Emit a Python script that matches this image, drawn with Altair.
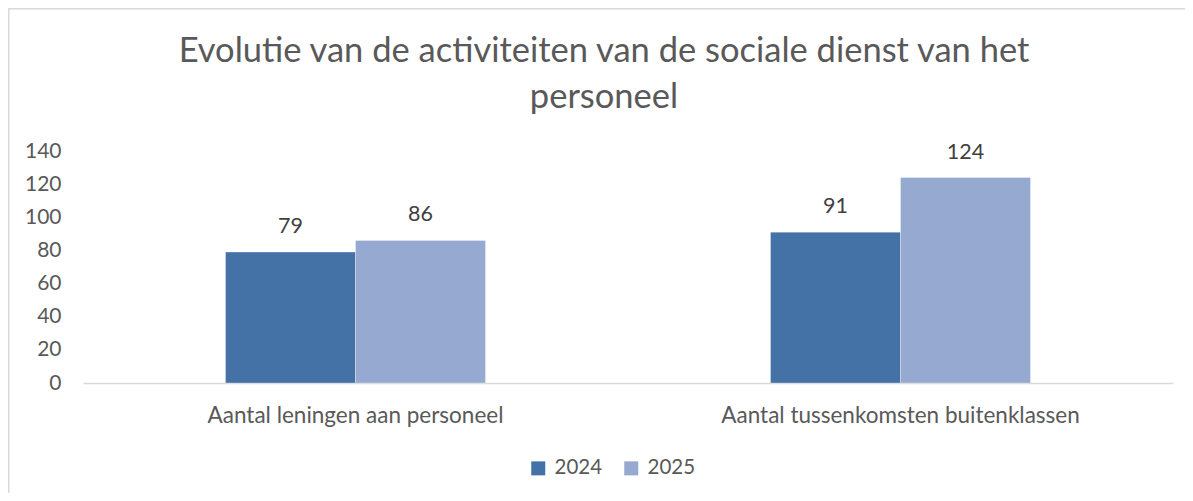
import altair as alt
import pandas as pd

categories = ["Aantal leningen aan personeel", "Aantal tussenkomsten buitenklassen"]
years = ["2024", "2025"]
values_2024 = [79, 91]
values_2025 = [86, 124]
y_ticks = [0, 20, 40, 60, 80, 100, 120, 140]
colors = ["#4472A6", "#95A9D1"]
title_lines = ["Evolutie van de activiteiten van de sociale dienst van het", "personeel"]

rows = []
for c, a, b in zip(categories, values_2024, values_2025):
    rows.append({"cat": c, "year": "2024", "value": a})
    rows.append({"cat": c, "year": "2025", "value": b})
df = pd.DataFrame(rows)

FONT = "Lato"
GREY = "#595959"

base = alt.Chart(df).encode(
    x=alt.X("cat:N", sort=categories, title=None,
            scale=alt.Scale(paddingInner=0.523, paddingOuter=0.2615),
            axis=alt.Axis(labelAngle=0, ticks=False, domainColor="#D9D9D9", domainWidth=1.5,
                          labelFontSize=22.5, labelColor=GREY, labelFont=FONT, labelPadding=21,
                          labelLimit=0)),
    xOffset=alt.XOffset("year:N", sort=years, scale=alt.Scale(paddingInner=0, paddingOuter=0)),
    y=alt.Y("value:Q", title=None, scale=alt.Scale(domain=[0, 140]),
            axis=alt.Axis(values=y_ticks, grid=False, domain=False, ticks=False,
                          labelFontSize=21, labelColor=GREY, labelFont=FONT, labelPadding=22)),
)

bars = base.mark_bar(stroke="white", strokeWidth=0.5, strokeOpacity=0.6).encode(
    color=alt.Color("year:N", sort=years, scale=alt.Scale(domain=years, range=colors),
                    legend=alt.Legend(title=None, orient="none", legendX=445, legendY=307,
                                      direction="horizontal", symbolType="square", symbolSize=196,
                                      symbolStrokeWidth=0, labelFontSize=20.5, labelColor=GREY,
                                      labelFont=FONT, labelOffset=6, columnPadding=18, padding=0))
)

labels = base.mark_text(baseline="alphabetic", dy=-19, fontSize=21.5, color="#404040", font=FONT).encode(
    text=alt.Text("value:Q")
)

one = pd.DataFrame({"a": [0]})
title1 = alt.Chart(one).mark_text(fontSize=34.5, font=FONT, fontWeight="normal", color=GREY,
                                  align="center", baseline="alphabetic").encode(
    x=alt.value(521), y=alt.value(-89), text=alt.value(title_lines[0]))
title2 = alt.Chart(one).mark_text(fontSize=34.5, font=FONT, fontWeight="normal", color=GREY,
                                  align="center", baseline="alphabetic").encode(
    x=alt.value(521), y=alt.value(-43), text=alt.value(title_lines[1]))

top_border = alt.Chart(one).mark_rect(color="#D9D9D9", strokeWidth=0).encode(
    x=alt.value(-75), x2=alt.value(1102), y=alt.value(-143), y2=alt.value(-141.5))
left_border = alt.Chart(one).mark_rect(color="#D9D9D9", strokeWidth=0).encode(
    x=alt.value(-75), x2=alt.value(-73.5), y=alt.value(-143), y2=alt.value(342))

chart = alt.layer(top_border, left_border, bars, labels, title1, title2).properties(
    width=1090, height=232,
    padding={"left": 75, "top": 143, "right": 12, "bottom": 110},
    autosize=alt.AutoSizeParams(type="none"),
).configure_view(stroke=None)

chart.save("out.html", embed_options={"renderer": "svg", "actions": False})
